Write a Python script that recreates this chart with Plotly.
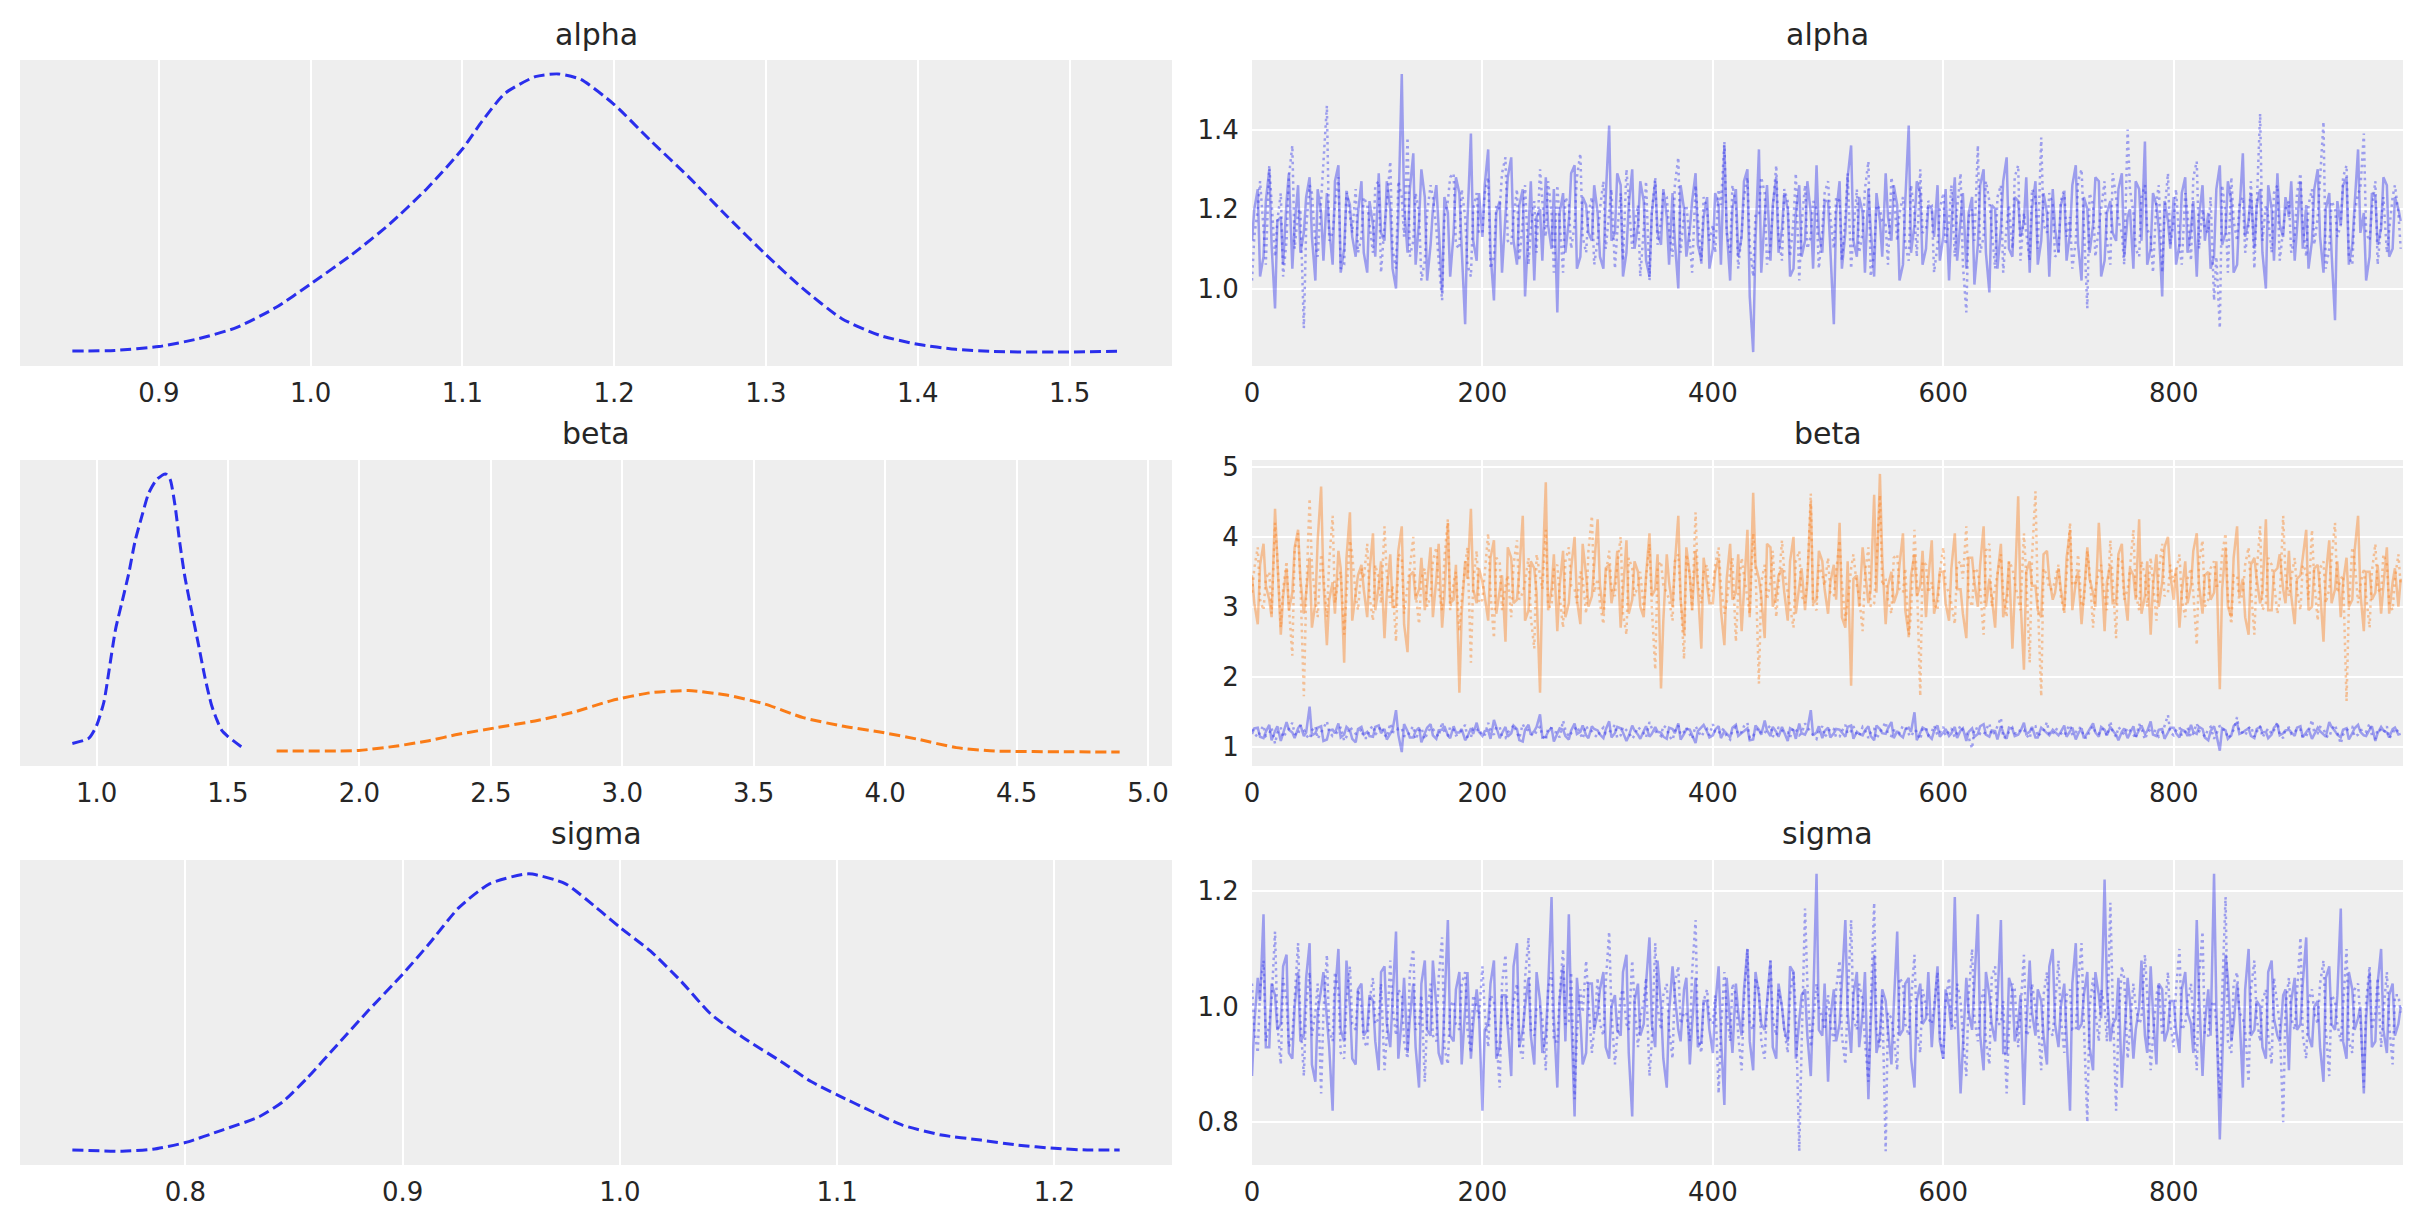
import plotly.graph_objects as go

# ---------------- data ----------------
# Each chain is stored as two lists: draws 0,5,10,... and draws 2,7,12,...
DRAW_A = list(range(0, 1000, 5))
DRAW_B = list(range(2, 1000, 5))

ALPHA_KDE_X = [0.843, 0.871, 0.900, 0.926, 0.951, 0.977, 1.000, 1.027, 1.052, 1.077, 1.100, 1.113, 1.128, 1.148, 1.163,
               1.178, 1.200, 1.224, 1.249, 1.274, 1.300, 1.324, 1.350, 1.375, 1.400, 1.425, 1.450, 1.491, 1.533]
ALPHA_KDE_Y = [0.004, 0.006, 0.02, 0.048, 0.088, 0.16, 0.245, 0.35, 0.46, 0.59, 0.73, 0.83, 0.93, 0.99, 1.00,
               0.98, 0.89, 0.76, 0.63, 0.49, 0.35, 0.23, 0.12, 0.06, 0.028, 0.01, 0.002, 0.0, 0.003]

BETA0_KDE_X = [0.908, 0.971, 1.000, 1.028, 1.047, 1.072, 1.097, 1.122, 1.147, 1.173, 1.198, 1.229, 1.263, 1.280,
               1.298, 1.317, 1.336, 1.361, 1.387, 1.412, 1.437, 1.456, 1.475, 1.500, 1.552]
BETA0_KDE_Y = [0.031, 0.05, 0.095, 0.18, 0.29, 0.44, 0.54, 0.64, 0.76, 0.85, 0.93, 0.98, 1.00, 0.98,
               0.89, 0.75, 0.63, 0.51, 0.39, 0.27, 0.17, 0.12, 0.08, 0.056, 0.018]
BETA1_KDE_X = [1.685, 1.997, 2.143, 2.259, 2.376, 2.522, 2.668, 2.813, 2.959, 3.105, 3.251, 3.397, 3.542, 3.688,
               3.834, 3.980, 4.125, 4.271, 4.417, 4.708, 4.892]
BETA1_KDE_Y = [0.004, 0.006, 0.022, 0.04, 0.064, 0.088, 0.112, 0.143, 0.185, 0.213, 0.221, 0.205, 0.173, 0.124,
               0.094, 0.072, 0.046, 0.016, 0.004, 0.001, 0.0]

SIGMA_KDE_X = [0.748, 0.771, 0.785, 0.800, 0.817, 0.834, 0.845, 0.856, 0.870, 0.884, 0.900, 0.912, 0.926, 0.940,
               0.958, 0.975, 0.989, 1.000, 1.014, 1.028, 1.042, 1.057, 1.074, 1.088, 1.100, 1.116, 1.130, 1.148,
               1.166, 1.183, 1.200, 1.215, 1.230]
SIGMA_KDE_Y = [0.004, 0.0, 0.007, 0.031, 0.076, 0.124, 0.179, 0.263, 0.384, 0.505, 0.638, 0.746, 0.879, 0.964,
               1.0, 0.964, 0.879, 0.807, 0.722, 0.614, 0.493, 0.408, 0.324, 0.251, 0.203, 0.143, 0.094, 0.058,
               0.040, 0.022, 0.010, 0.004, 0.004]

ALPHA_CHAIN0_A = [
    1.12, 1.25, 1.08, 1.30, 0.95, 1.18, 1.22, 1.05, 1.26, 1.14, 1.28, 1.02, 1.19, 1.24, 1.06, 1.31, 1.10, 1.21, 1.08, 1.27,
    1.04, 1.16, 1.29, 1.12, 1.20, 1.00, 1.54, 1.09, 1.34, 1.17, 1.23, 1.11, 1.26, 0.99, 1.19, 1.14, 1.24, 0.91, 1.39, 1.07,
    1.13, 1.35, 0.97, 1.22, 1.18, 1.33, 1.06, 1.25, 1.15, 1.02, 1.20, 1.28, 1.10, 0.94, 1.24, 1.17, 1.31, 1.08, 1.21, 1.12,
    1.19, 1.05, 1.41, 1.14, 1.26, 1.09, 1.30, 1.16, 1.22, 1.03, 1.27, 1.11, 1.18, 1.24, 1.00, 1.20, 1.15, 1.29, 1.07, 1.23,
    1.10, 1.21, 1.36, 1.02, 1.25, 1.13, 1.30, 0.84, 1.35, 1.18, 1.07, 1.28, 1.15, 1.20, 1.05, 1.26, 1.12, 1.19, 1.31, 1.09,
    1.22, 0.91, 1.27, 1.14, 1.36, 1.08, 1.19, 1.25, 1.03, 1.17, 1.29, 1.12, 1.21, 1.06, 1.41, 1.16, 1.24, 1.10, 1.20, 1.26,
    1.13, 1.02, 1.28, 1.18, 1.05, 1.23, 1.11, 1.30, 0.99, 1.20, 1.15, 1.33, 1.08, 1.22, 1.17, 1.04, 1.27, 1.12, 1.19, 1.25,
    1.09, 1.24, 1.14, 1.31, 1.02, 1.20, 1.16, 1.27, 1.07, 1.22, 1.12, 1.29, 1.18, 1.05, 1.25, 1.37, 1.10, 1.21, 0.98, 1.17,
    1.23, 1.11, 1.28, 1.15, 1.03, 1.26, 1.19, 1.08, 1.31, 1.14, 1.22, 1.06, 1.34, 1.17, 1.10, 1.25, 1.00, 1.20, 1.29, 1.13,
    1.18, 1.07, 1.27, 1.21, 1.12, 1.30, 1.04, 1.24, 0.92, 1.16, 1.28, 1.11, 1.35, 1.19, 1.08, 1.23, 1.15, 1.26, 1.10, 1.20,
]
ALPHA_CHAIN0_B = [
    1.20, 1.03, 1.22, 1.11, 1.17, 1.06, 1.29, 1.16, 1.09, 1.23, 1.13, 1.25, 1.07, 1.15, 1.27, 1.04, 1.24, 1.13, 1.19, 1.09,
    1.22, 1.08, 1.14, 1.27, 1.05, 1.18, 1.21, 1.25, 1.06, 1.30, 1.02, 1.20, 1.14, 1.23, 1.03, 1.28, 1.10, 1.17, 1.12, 1.24,
    1.26, 1.09, 1.19, 1.04, 1.28, 1.12, 1.21, 0.98, 1.27, 1.18, 1.07, 1.16, 1.25, 1.19, 1.09, 1.29, 1.05, 1.23, 1.14, 1.26,
    1.08, 1.23, 1.12, 1.29, 1.03, 1.21, 1.10, 1.27, 1.07, 1.19, 1.14, 1.25, 1.06, 1.12, 1.26, 1.08, 1.22, 1.11, 1.18, 1.05,
    1.24, 1.06, 1.15, 1.20, 1.08, 1.27, 0.98, 1.12, 1.04, 1.26, 1.21, 1.09, 1.24, 1.03, 1.19, 1.08, 1.27, 1.05, 1.14, 1.22,
    1.10, 1.19, 1.05, 1.28, 1.12, 1.23, 1.04, 1.15, 1.24, 1.08, 1.18, 1.26, 1.02, 1.22, 1.09, 1.27, 1.06, 1.21, 1.13, 1.07,
    1.25, 1.16, 1.07, 1.24, 1.19, 1.01, 1.26, 1.09, 1.21, 1.05, 1.27, 1.10, 1.23, 1.13, 1.28, 1.20, 1.06, 1.24, 1.03, 1.15,
    1.21, 1.07, 1.26, 1.11, 1.23, 1.09, 1.28, 1.03, 1.19, 1.14, 1.25, 1.08, 1.20, 1.27, 1.12, 1.06, 1.24, 1.15, 1.22, 1.10,
    1.06, 1.24, 1.09, 1.22, 1.18, 1.12, 1.05, 1.25, 1.11, 1.27, 1.04, 1.19, 1.13, 1.24, 1.21, 1.09, 1.26, 1.07, 1.16, 1.23,
    1.27, 1.15, 1.10, 1.05, 1.25, 1.13, 1.20, 1.09, 1.22, 1.26, 1.06, 1.21, 1.14, 1.02, 1.24, 1.11, 1.28, 1.08, 1.23, 1.17,
]
ALPHA_CHAIN1_A = [
    1.02, 1.20, 1.15, 1.31, 1.08, 1.24, 1.12, 1.36, 1.19, 0.90, 1.26, 1.11, 1.22, 1.46, 1.14, 1.28, 1.06, 1.18, 1.25, 1.13,
    1.21, 1.09, 1.27, 1.16, 1.32, 1.05, 1.23, 1.38, 1.12, 1.19, 1.07, 1.26, 1.15, 0.97, 1.22, 1.29, 1.10, 1.18, 1.03, 1.24,
    1.14, 1.28, 1.08, 1.20, 1.33, 1.11, 1.25, 1.17, 1.06, 1.22, 1.30, 1.13, 1.19, 1.26, 1.04, 1.21, 1.16, 1.34, 1.09, 1.23,
    1.12, 1.27, 1.18, 1.05, 1.24, 1.30, 1.10, 1.21, 1.15, 1.02, 1.28, 1.17, 1.23, 1.08, 1.33, 1.19, 1.12, 1.26, 1.06, 1.20,
    1.16, 1.25, 1.37, 1.09, 1.21, 1.14, 1.28, 1.03, 1.19, 1.24, 1.11, 1.31, 1.07, 1.22, 1.17, 1.02, 1.26, 1.13, 1.20, 1.15,
    1.27, 1.10, 1.22, 1.18, 1.05, 1.25, 1.14, 1.32, 1.09, 1.20, 1.16, 1.28, 1.12, 1.23, 1.07, 1.19, 1.30, 1.15, 1.21, 1.11,
    1.24, 1.17, 1.08, 1.29, 0.94, 1.20, 1.36, 1.13, 1.22, 1.05, 1.26, 1.16, 1.10, 1.31, 1.19, 1.07, 1.23, 1.38, 1.14, 1.21,
    1.09, 1.25, 1.18, 1.12, 1.30, 0.95, 1.21, 1.16, 1.27, 1.06, 1.23, 1.14, 1.40, 1.19, 1.08, 1.26, 1.13, 1.22, 1.04, 1.29,
    1.17, 1.11, 1.24, 1.07, 1.32, 1.20, 1.14, 0.97, 0.90, 1.19, 1.28, 1.12, 1.23, 1.16, 1.05, 1.44, 1.21, 1.09, 1.26, 1.15,
    1.22, 1.13, 1.29, 1.08, 1.25, 1.18, 1.42, 1.10, 1.20, 1.16, 1.31, 1.06, 1.24, 1.39, 1.12, 1.27, 1.17, 1.09, 1.23, 1.19,
]
ALPHA_CHAIN1_B = [
    1.13, 1.27, 1.06, 1.22, 1.17, 1.03, 1.28, 1.10, 1.20, 1.15, 1.24, 1.08, 1.30, 1.12, 1.21, 1.05, 1.25, 1.14, 1.09, 1.23,
    1.16, 1.26, 1.04, 1.21, 1.10, 1.27, 1.13, 1.08, 1.24, 1.02, 1.19, 1.23, 1.07, 1.18, 1.28, 1.11, 1.25, 1.06, 1.20, 1.14,
    1.24, 1.05, 1.21, 1.29, 1.12, 1.18, 1.07, 1.26, 1.15, 1.09, 1.22, 1.27, 1.04, 1.17, 1.23, 1.10, 1.28, 1.13, 1.19, 1.06,
    1.20, 1.10, 1.25, 1.14, 1.07, 1.22, 1.16, 1.03, 1.27, 1.19, 1.11, 1.24, 1.15, 1.26, 1.09, 1.21, 1.04, 1.18, 1.23, 1.12,
    1.09, 1.21, 1.14, 1.26, 1.05, 1.23, 1.11, 1.19, 1.28, 1.06, 1.20, 1.13, 1.25, 1.08, 1.29, 1.16, 1.10, 1.22, 1.05, 1.24,
    1.18, 1.23, 1.07, 1.29, 1.14, 1.09, 1.25, 1.03, 1.21, 1.17, 1.06, 1.24, 1.19, 1.11, 1.26, 1.08, 1.14, 1.22, 1.04, 1.20,
    1.11, 1.26, 1.20, 1.06, 1.18, 1.12, 1.09, 1.27, 1.15, 1.23, 1.04, 1.21, 1.28, 1.07, 1.14, 1.25, 1.10, 1.16, 1.24, 1.08,
    1.22, 1.13, 1.05, 1.27, 1.16, 1.24, 1.08, 1.20, 1.12, 1.29, 1.17, 1.06, 1.25, 1.10, 1.23, 1.15, 1.04, 1.26, 1.19, 1.11,
    1.25, 1.06, 1.19, 1.28, 1.10, 1.15, 1.23, 1.08, 1.26, 1.04, 1.17, 1.21, 1.09, 1.27, 1.22, 1.12, 1.18, 1.24, 1.07, 1.20,
    1.09, 1.24, 1.16, 1.21, 1.11, 1.27, 1.05, 1.22, 1.13, 1.28, 1.08, 1.19, 1.25, 1.14, 1.20, 1.06, 1.23, 1.15, 1.26, 1.10,
]

BETA0_CHAIN0_A = [
    1.18, 1.27, 1.12, 1.31, 1.22, 1.08, 1.35, 1.20, 1.26, 1.15, 1.57, 1.19, 1.29, 1.10, 1.24, 1.33, 1.17, 1.23, 1.06, 1.28,
    1.21, 1.14, 1.30, 1.25, 1.18, 1.52, 0.92, 1.22, 1.13, 1.27, 1.19, 1.32, 1.11, 1.24, 1.16, 1.29, 1.20, 1.09, 1.26, 1.34,
    1.15, 1.23, 1.38, 1.12, 1.28, 1.19, 1.25, 1.07, 1.31, 1.22, 1.46, 1.14, 1.27, 1.18, 1.24, 1.10, 1.33, 1.21, 1.16, 1.29,
    1.23, 1.12, 1.36, 1.19, 1.26, 1.08, 1.30, 1.17, 1.22, 1.14, 1.28, 1.20, 1.11, 1.25, 1.33, 1.18, 1.24, 1.05, 1.27, 1.21,
    1.16, 1.29, 1.22, 1.13, 1.31, 1.19, 1.26, 1.10, 1.24, 1.37, 1.15, 1.21, 1.28, 1.08, 1.23, 1.33, 1.17, 1.52, 1.20, 1.12,
    1.27, 1.19, 1.24, 1.14, 1.30, 1.21, 1.16, 1.29, 1.09, 1.25, 1.18, 1.35, 1.22, 1.13, 1.27, 1.49, 1.19, 1.24, 1.11, 1.30,
    1.20, 1.15, 1.28, 1.23, 1.08, 1.26, 1.18, 1.32, 1.14, 1.22, 1.29, 1.11, 1.25, 1.17, 1.34, 1.21, 1.13, 1.27, 1.19, 1.24,
    1.16, 1.30, 1.22, 1.10, 1.26, 1.19, 1.33, 1.14, 1.24, 1.28, 1.17, 1.21, 1.12, 1.29, 1.23, 1.18, 1.36, 1.15, 1.25, 1.20,
    1.27, 1.13, 1.22, 1.31, 1.18, 1.25, 1.09, 1.29, 0.94, 1.23, 1.16, 1.34, 1.20, 1.26, 1.12, 1.28, 1.21, 1.17, 1.32, 1.19,
    1.24, 1.15, 1.29, 1.21, 1.11, 1.27, 1.18, 1.35, 1.22, 1.13, 1.26, 1.19, 1.31, 1.16, 1.24, 1.08, 1.28, 1.20, 1.25, 1.17,
]
BETA0_CHAIN0_B = [
    1.26, 1.14, 1.21, 1.09, 1.29, 1.18, 1.24, 1.12, 1.31, 1.20, 1.16, 1.27, 1.08, 1.23, 1.19, 1.13, 1.28, 1.11, 1.25, 1.17,
    1.15, 1.28, 1.19, 1.10, 1.24, 1.17, 1.32, 1.13, 1.22, 1.06, 1.27, 1.16, 1.23, 1.29, 1.12, 1.20, 1.25, 1.14, 1.18, 1.21,
    1.22, 1.11, 1.27, 1.19, 1.14, 1.30, 1.09, 1.24, 1.17, 1.28, 1.13, 1.21, 1.07, 1.26, 1.15, 1.23, 1.18, 1.30, 1.12, 1.25,
    1.17, 1.24, 1.13, 1.28, 1.20, 1.15, 1.23, 1.11, 1.29, 1.18, 1.21, 1.14, 1.27, 1.19, 1.10, 1.25, 1.16, 1.22, 1.31, 1.13,
    1.24, 1.12, 1.18, 1.27, 1.15, 1.21, 1.09, 1.30, 1.17, 1.23, 1.28, 1.14, 1.20, 1.26, 1.11, 1.19, 1.24, 1.16, 1.29, 1.22,
    1.13, 1.25, 1.20, 1.28, 1.11, 1.18, 1.23, 1.15, 1.30, 1.19, 1.26, 1.12, 1.17, 1.24, 1.21, 1.09, 1.27, 1.16, 1.22, 1.14,
    1.25, 1.19, 1.12, 1.26, 1.21, 1.14, 1.29, 1.17, 1.23, 1.10, 1.20, 1.27, 1.15, 1.22, 1.18, 1.28, 1.13, 1.24, 1.16, 1.21,
    1.21, 1.14, 1.27, 1.18, 1.12, 1.25, 1.20, 1.28, 1.16, 1.23, 1.09, 1.26, 1.19, 1.14, 1.30, 1.22, 1.17, 1.24, 1.11, 1.27,
    1.19, 1.24, 1.15, 1.21, 1.28, 1.13, 1.22, 1.17, 1.26, 1.11, 1.29, 1.18, 1.23, 1.15, 1.25, 1.20, 1.12, 1.27, 1.16, 1.23,
    1.20, 1.27, 1.13, 1.25, 1.18, 1.22, 1.14, 1.28, 1.17, 1.24, 1.10, 1.26, 1.21, 1.15, 1.29, 1.19, 1.23, 1.13, 1.27, 1.18,
]
BETA0_CHAIN1_A = [
    1.25, 1.13, 1.30, 1.19, 1.04, 1.27, 1.21, 1.34, 1.16, 1.24, 1.11, 1.29, 1.20, 1.36, 1.15, 1.22, 1.08, 1.28, 1.18, 1.25,
    1.12, 1.30, 1.23, 1.17, 1.33, 1.20, 1.26, 1.14, 1.29, 1.22, 1.10, 1.27, 1.19, 1.35, 1.16, 1.24, 1.18, 1.31, 1.13, 1.26,
    1.21, 1.34, 1.17, 1.28, 1.12, 1.25, 1.19, 1.32, 1.23, 1.15, 1.29, 1.09, 1.26, 1.20, 1.37, 1.14, 1.24, 1.18, 1.30, 1.22,
    1.13, 1.27, 1.20, 1.31, 1.16, 1.24, 1.11, 1.28, 1.19, 1.35, 1.22, 1.15, 1.26, 1.09, 1.30, 1.21, 1.17, 1.29, 1.14, 1.25,
    1.32, 1.18, 1.23, 1.10, 1.28, 1.21, 1.34, 1.15, 1.26, 1.19, 1.30, 1.13, 1.24, 1.20, 1.27, 1.16, 1.33, 1.22, 1.11, 1.29,
    1.19, 1.25, 1.14, 1.31, 1.22, 1.17, 1.28, 1.12, 1.26, 1.20, 1.35, 1.15, 1.23, 1.30, 1.18, 1.24, 1.10, 1.27, 1.21, 1.16,
    1.28, 1.22, 1.13, 1.30, 1.19, 0.97, 1.25, 1.16, 1.33, 1.21, 1.41, 1.14, 1.27, 1.18, 1.24, 1.11, 1.29, 1.20, 1.35, 1.17,
    1.23, 1.15, 1.31, 1.20, 1.26, 1.12, 1.29, 1.18, 1.24, 1.36, 1.14, 1.22, 1.27, 1.17, 1.32, 1.10, 1.25, 1.21, 1.19, 1.45,
    1.16, 1.28, 1.21, 1.13, 1.33, 1.19, 1.25, 1.11, 1.30, 1.23, 1.17, 1.42, 1.20, 1.26, 1.14, 1.29, 1.22, 1.18, 1.35, 1.12,
    1.27, 1.20, 1.24, 1.15, 1.38, 1.19, 1.26, 1.13, 1.31, 1.04, 1.22, 1.28, 1.17, 1.25, 1.33, 1.11, 1.23, 1.29, 1.18, 1.21,
]
BETA0_CHAIN1_B = [
    1.19, 1.22, 1.15, 1.27, 1.20, 1.13, 1.25, 1.18, 1.30, 1.16, 1.23, 1.11, 1.26, 1.21, 1.17, 1.28, 1.14, 1.24, 1.19, 1.12,
    1.24, 1.17, 1.29, 1.13, 1.21, 1.26, 1.15, 1.22, 1.10, 1.27, 1.19, 1.25, 1.14, 1.20, 1.28, 1.16, 1.23, 1.12, 1.26, 1.18,
    1.16, 1.23, 1.28, 1.14, 1.20, 1.31, 1.12, 1.25, 1.18, 1.22, 1.15, 1.27, 1.21, 1.13, 1.24, 1.19, 1.29, 1.11, 1.23, 1.17,
    1.22, 1.18, 1.25, 1.12, 1.28, 1.20, 1.16, 1.24, 1.13, 1.26, 1.19, 1.30, 1.15, 1.22, 1.17, 1.27, 1.11, 1.23, 1.20, 1.16,
    1.21, 1.26, 1.14, 1.23, 1.17, 1.29, 1.12, 1.22, 1.18, 1.25, 1.15, 1.28, 1.20, 1.13, 1.24, 1.19, 1.27, 1.16, 1.22, 1.14,
    1.27, 1.13, 1.22, 1.18, 1.29, 1.15, 1.24, 1.20, 1.11, 1.26, 1.17, 1.23, 1.19, 1.28, 1.14, 1.21, 1.25, 1.16, 1.30, 1.20,
    1.15, 1.26, 1.20, 1.23, 1.13, 1.27, 1.18, 1.24, 1.16, 1.29, 1.12, 1.21, 1.19, 1.25, 1.17, 1.28, 1.14, 1.22, 1.18, 1.26,
    1.19, 1.24, 1.16, 1.27, 1.13, 1.22, 1.20, 1.25, 1.15, 1.21, 1.28, 1.17, 1.23, 1.11, 1.26, 1.19, 1.24, 1.14, 1.29, 1.20,
    1.23, 1.15, 1.27, 1.19, 1.22, 1.14, 1.28, 1.18, 1.25, 1.12, 1.24, 1.20, 1.16, 1.29, 1.21, 1.13, 1.26, 1.23, 1.17, 1.25,
    1.18, 1.26, 1.13, 1.22, 1.20, 1.28, 1.15, 1.24, 1.19, 1.17, 1.27, 1.14, 1.23, 1.21, 1.16, 1.25, 1.19, 1.12, 1.26, 1.22,
]

BETA1_CHAIN0_A = [
    3.45, 2.75, 3.90, 3.10, 4.40, 2.60, 3.55, 3.20, 4.10, 2.90, 3.70, 3.05, 4.72, 2.45, 3.35, 3.80, 2.20, 4.35, 3.15, 3.60,
    2.85, 4.05, 3.30, 2.55, 3.75, 3.00, 4.15, 2.35, 3.50, 3.25, 2.95, 3.85, 3.40, 2.70, 4.20, 3.10, 1.77, 3.65, 4.40, 3.05,
    3.35, 2.80, 3.95, 3.20, 2.50, 3.70, 3.10, 4.30, 2.95, 3.55, 1.77, 4.78, 3.25, 2.65, 3.80, 3.05, 4.00, 2.75, 3.45, 3.15,
    4.25, 2.90, 3.60, 3.35, 2.70, 3.95, 3.10, 3.50, 2.85, 4.05, 3.25, 1.83, 3.75, 3.00, 4.30, 2.60, 3.45, 3.80, 2.40, 3.30,
    3.05, 3.70, 2.45, 3.90, 3.20, 2.65, 4.10, 4.63, 3.40, 2.55, 3.85, 3.15, 3.55, 2.80, 4.00, 3.25, 2.95, 4.50, 3.10, 3.65,
    2.90, 3.60, 4.20, 2.70, 1.87, 3.45, 3.85, 3.05, 4.60, 4.90, 2.75, 3.50, 3.20, 4.05, 2.60, 3.75, 3.30, 2.85, 3.95, 3.15,
    3.50, 2.80, 4.05, 3.25, 2.55, 3.70, 3.00, 4.15, 3.40, 2.70, 3.90, 3.15, 2.40, 4.58, 2.10, 3.65, 3.30, 2.85, 3.80, 3.10,
    3.55, 2.95, 4.10, 3.35, 2.75, 3.85, 3.20, 4.20, 2.65, 3.60, 3.05, 3.90, 2.80, 3.45, 4.25, 3.15, 2.60, 3.75, 3.35, 4.00,
    3.10, 2.70, 3.65, 3.30, 4.05, 2.90, 3.50, 3.20, 1.82, 3.85, 2.85, 4.15, 3.40, 2.60, 3.70, 3.05, 4.25, 2.95, 3.55, 3.25,
    3.80, 2.75, 3.45, 4.10, 3.00, 3.60, 2.50, 3.95, 3.25, 2.85, 3.70, 3.10, 4.30, 2.65, 3.50, 3.20, 2.90, 3.85, 3.35, 3.00,
]
BETA1_CHAIN0_B = [
    3.05, 3.60, 3.30, 2.85, 3.75, 3.15, 2.95, 3.85, 3.40, 3.20, 2.70, 3.95, 3.35, 3.10, 2.90, 3.55, 3.70, 2.80, 3.45, 3.25,
    3.50, 2.95, 3.65, 3.20, 3.00, 3.80, 2.75, 3.45, 3.10, 3.70, 3.35, 2.85, 3.90, 3.15, 3.05, 3.60, 2.90, 3.40, 3.25, 3.55,
    3.15, 3.70, 2.90, 3.45, 3.85, 3.05, 3.50, 2.80, 3.65, 3.20, 3.40, 2.95, 3.75, 3.30, 2.85, 3.55, 3.10, 3.90, 3.00, 3.60,
    3.30, 3.55, 3.05, 3.80, 3.20, 2.90, 3.65, 3.00, 3.45, 3.15, 3.75, 2.80, 3.35, 3.60, 3.10, 3.85, 2.95, 3.25, 3.70, 3.05,
    3.50, 2.95, 3.40, 3.10, 3.75, 3.30, 2.85, 3.60, 3.15, 3.90, 3.00, 3.45, 3.20, 3.65, 2.90, 3.55, 3.35, 3.05, 3.80, 3.25,
    3.35, 3.10, 2.85, 3.65, 3.40, 3.00, 3.55, 3.25, 3.20, 3.70, 3.30, 3.05, 3.60, 2.95, 3.45, 3.15, 3.80, 3.40, 2.90, 3.50,
    3.05, 3.55, 3.25, 2.90, 3.70, 3.35, 3.60, 3.00, 3.15, 3.45, 2.85, 3.65, 3.20, 3.10, 3.50, 3.30, 2.95, 3.75, 3.40, 3.20,
    3.25, 3.70, 2.95, 3.50, 3.15, 3.40, 3.00, 3.60, 3.35, 3.05, 3.75, 3.20, 3.55, 3.10, 2.90, 3.65, 3.30, 3.00, 3.85, 3.45,
    3.55, 3.20, 3.05, 3.80, 3.30, 3.45, 3.10, 3.65, 3.25, 3.00, 3.70, 3.15, 2.85, 3.60, 3.40, 3.20, 2.95, 3.50, 3.75, 3.05,
    3.15, 3.40, 3.70, 2.95, 3.55, 3.25, 3.45, 3.05, 3.65, 3.35, 3.00, 3.80, 3.20, 3.50, 3.10, 3.60, 3.30, 2.90, 3.55, 3.40,
]
BETA1_CHAIN1_A = [
    3.20, 3.85, 2.95, 3.50, 4.20, 2.70, 3.65, 2.30, 4.05, 1.72, 4.55, 3.10, 3.75, 2.85, 4.30, 3.40, 2.60, 3.95, 3.15, 3.55,
    3.90, 2.80, 3.40, 4.15, 3.05, 2.50, 3.70, 3.25, 4.00, 2.75, 3.55, 3.15, 3.85, 2.95, 4.25, 3.35, 2.65, 3.60, 2.20, 3.80,
    3.10, 4.05, 2.55, 3.65, 3.30, 2.85, 3.95, 3.20, 3.70, 2.40, 3.45, 4.10, 3.00, 3.60, 2.70, 3.85, 3.25, 3.50, 2.90, 4.30,
    3.40, 2.75, 3.80, 3.15, 4.00, 2.60, 3.55, 3.30, 2.95, 3.90, 2.10, 3.65, 3.20, 2.80, 3.75, 2.25, 3.45, 4.35, 3.05, 3.60,
    3.25, 3.85, 2.90, 3.50, 2.50, 3.70, 3.10, 4.05, 1.90, 3.60, 3.35, 2.85, 3.95, 3.20, 2.70, 3.80, 3.05, 4.62, 2.95, 3.45,
    3.70, 3.15, 3.95, 2.80, 3.55, 3.30, 2.65, 3.85, 3.05, 4.60, 3.40, 2.90, 3.75, 3.20, 2.55, 4.10, 1.72, 3.60, 3.35, 2.95,
    3.85, 3.20, 2.75, 3.65, 4.15, 3.00, 3.50, 2.60, 3.90, 3.30, 3.75, 2.85, 3.55, 3.10, 4.05, 2.20, 4.65, 1.72, 3.45, 3.25,
    3.60, 2.90, 4.20, 3.35, 3.00, 3.80, 2.70, 3.50, 3.15, 3.95, 2.55, 3.65, 3.25, 4.10, 2.95, 3.45, 3.70, 2.80, 3.90, 3.20,
    3.35, 3.75, 2.85, 3.55, 2.45, 3.95, 3.10, 3.65, 3.30, 4.05, 2.75, 3.45, 3.20, 3.85, 2.60, 4.15, 3.05, 3.60, 2.90, 4.30,
    3.15, 3.70, 2.95, 3.50, 4.10, 2.80, 3.65, 3.25, 4.20, 3.40, 1.65, 3.85, 3.05, 3.55, 2.70, 3.90, 3.20, 3.60, 2.95, 3.75,
]
BETA1_CHAIN1_B = [
    3.55, 3.10, 3.40, 2.90, 3.70, 3.25, 3.00, 3.80, 3.35, 3.15, 3.60, 2.85, 3.45, 3.65, 3.05, 3.50, 3.20, 3.75, 2.95, 3.40,
    3.15, 3.60, 3.05, 3.45, 3.30, 3.75, 2.90, 3.55, 3.20, 3.40, 3.00, 3.65, 3.25, 3.70, 2.95, 3.50, 3.10, 3.85, 3.35, 3.05,
    3.50, 3.20, 3.70, 2.95, 3.45, 3.60, 3.10, 3.35, 2.85, 3.75, 3.25, 3.00, 3.55, 3.15, 3.65, 3.30, 3.05, 3.40, 3.80, 3.20,
    3.05, 3.45, 3.25, 3.60, 2.90, 3.70, 3.15, 3.50, 3.40, 3.00, 3.55, 3.30, 3.10, 3.65, 3.20, 3.75, 2.95, 3.35, 3.50, 3.15,
    3.60, 3.30, 3.05, 3.70, 3.20, 3.45, 2.90, 3.55, 3.35, 3.10, 3.80, 3.25, 3.50, 2.95, 3.65, 3.15, 3.40, 3.00, 3.60, 3.30,
    3.20, 3.50, 3.35, 3.05, 3.75, 3.15, 3.45, 3.00, 3.60, 3.30, 3.10, 3.70, 3.25, 3.55, 2.90, 3.40, 3.65, 3.20, 3.05, 3.50,
    3.30, 3.05, 3.60, 3.40, 3.15, 3.55, 3.25, 3.80, 3.00, 3.50, 3.20, 3.65, 3.35, 2.95, 3.45, 3.70, 3.10, 3.55, 3.25, 3.40,
    3.15, 3.45, 3.30, 3.75, 3.05, 3.50, 3.25, 3.60, 2.95, 3.40, 3.70, 3.10, 3.55, 3.20, 3.65, 3.00, 3.35, 3.50, 3.15, 3.60,
    3.50, 3.10, 3.40, 3.20, 3.65, 3.00, 3.55, 3.30, 3.75, 3.15, 3.45, 3.05, 3.60, 3.25, 3.50, 2.95, 3.70, 3.35, 3.10, 3.45,
    3.40, 3.25, 3.60, 3.10, 3.35, 3.55, 3.05, 3.70, 3.20, 3.45, 3.00, 3.65, 3.30, 3.15, 3.50, 3.25, 3.75, 3.05, 3.40, 3.30,
]

SIGMA_CHAIN0_A = [
    0.88, 1.05, 1.16, 0.93, 1.02, 0.97, 1.09, 0.91, 1.06, 0.95, 1.11, 0.87, 1.03, 0.98, 0.82, 1.10, 0.94, 1.00, 0.90, 1.04,
    0.96, 1.01, 0.89, 1.07, 0.93, 1.13, 0.98, 0.92, 1.04, 0.86, 1.08, 0.95, 1.00, 0.90, 1.15, 0.94, 1.06, 0.99, 0.91, 1.03,
    0.82, 0.97, 1.08, 0.93, 1.02, 0.88, 1.11, 0.96, 1.05, 0.90, 1.01, 0.95, 1.19, 0.86, 1.07, 1.16, 0.81, 0.98, 0.92, 1.04,
    0.99, 1.06, 0.91, 1.02, 0.95, 1.09, 0.81, 1.04, 0.97, 1.12, 0.93, 1.00, 0.86, 1.07, 0.96, 1.03, 0.90, 1.05, 0.94, 1.01,
    0.92, 1.07, 0.83, 0.98, 1.04, 0.95, 1.10, 0.89, 1.02, 0.96, 1.08, 0.91, 1.00, 0.94, 1.06, 0.97, 1.03, 0.88, 1.23, 0.95,
    0.87, 1.03, 0.97, 1.15, 0.92, 1.06, 0.99, 0.84, 1.09, 0.95, 1.01, 0.90, 1.13, 0.96, 1.05, 0.86, 1.04, 0.98, 0.93, 1.07,
    0.91, 1.00, 1.19, 0.85, 1.05, 0.96, 1.16, 0.89, 1.02, 0.94, 1.15, 0.92, 1.03, 0.97, 0.83, 1.08, 0.95, 1.01, 0.90, 1.10,
    0.93, 1.04, 0.82, 1.11, 0.97, 1.06, 0.89, 1.02, 1.22, 0.94, 0.98, 0.86, 1.05, 0.91, 1.00, 0.95, 1.07, 0.90, 1.03, 0.96,
    1.01, 0.92, 1.06, 0.97, 1.15, 0.88, 1.03, 1.23, 0.77, 1.09, 0.94, 1.04, 0.86, 1.10, 0.96, 1.00, 0.91, 1.08, 0.95, 1.02,
    0.89, 1.05, 0.97, 1.12, 0.93, 1.01, 0.87, 1.07, 0.96, 1.17, 0.91, 1.03, 0.98, 0.85, 1.06, 0.94, 1.10, 0.92, 1.04, 0.97,
]
SIGMA_CHAIN0_B = [
    0.97, 1.01, 0.93, 1.04, 0.96, 1.07, 0.92, 1.00, 0.94, 1.05, 0.90, 0.99, 1.06, 0.93, 1.02, 0.96, 1.08, 0.91, 1.03, 0.95,
    1.02, 0.94, 1.06, 0.97, 1.01, 0.91, 1.05, 0.98, 0.93, 1.04, 0.96, 1.08, 0.92, 1.00, 0.95, 1.03, 0.90, 1.06, 0.97, 0.99,
    0.96, 1.04, 0.91, 1.02, 0.97, 1.07, 0.93, 1.00, 0.95, 1.06, 0.92, 1.03, 0.98, 1.01, 0.94, 0.99, 1.05, 0.90, 1.04, 0.96,
    1.03, 0.93, 1.00, 0.96, 1.06, 0.92, 1.01, 0.95, 1.04, 0.97, 1.08, 0.91, 0.99, 1.02, 0.94, 1.05, 0.97, 0.93, 1.01, 0.96,
    1.00, 0.95, 1.05, 0.92, 0.99, 1.03, 0.94, 1.06, 0.97, 1.01, 0.93, 1.04, 0.96, 1.07, 0.91, 1.02, 0.95, 1.00, 0.96, 1.04,
    0.98, 0.94, 1.05, 0.99, 1.02, 0.93, 1.06, 0.97, 0.92, 1.03, 0.96, 1.00, 0.95, 1.04, 0.91, 1.01, 0.97, 1.06, 0.99, 0.94,
    1.03, 0.96, 1.00, 0.93, 0.99, 1.04, 0.95, 1.06, 0.97, 1.01, 0.92, 1.05, 0.94, 1.02, 0.96, 0.99, 1.03, 0.95, 1.07, 0.97,
    1.00, 0.95, 1.04, 0.96, 1.02, 0.93, 1.06, 0.98, 1.03, 0.97, 1.05, 0.94, 1.01, 0.96, 1.08, 0.92, 0.99, 1.04, 0.94, 1.01,
    0.96, 1.03, 0.99, 0.92, 1.02, 0.97, 0.95, 1.00, 0.90, 1.05, 0.97, 0.99, 1.03, 0.95, 1.01, 0.93, 1.06, 0.98, 0.94, 1.03,
    1.01, 0.96, 1.04, 0.95, 1.00, 0.93, 1.05, 0.97, 1.02, 0.94, 1.06, 0.96, 1.00, 0.98, 0.93, 1.04, 0.96, 1.02, 0.95, 1.00,
]
SIGMA_CHAIN1_A = [
    1.04, 0.92, 1.08, 0.97, 1.13, 0.90, 1.01, 0.95, 1.11, 0.88, 1.06, 0.99, 0.85, 1.09, 0.94, 1.03, 0.91, 1.07, 0.96, 1.00,
    0.93, 1.05, 0.98, 0.89, 1.08, 0.95, 1.02, 0.91, 1.10, 0.97, 0.87, 1.04, 0.94, 1.12, 0.90, 1.01, 0.96, 1.06, 0.92, 1.00,
    1.07, 0.93, 1.01, 0.86, 1.09, 0.96, 1.04, 0.91, 1.12, 0.95, 1.00, 0.89, 1.06, 0.94, 1.10, 0.97, 0.84, 1.03, 1.08, 0.92,
    1.05, 0.95, 1.13, 0.90, 1.02, 0.97, 1.08, 0.93, 1.01, 0.88, 1.11, 0.96, 1.04, 0.91, 1.07, 0.99, 0.94, 1.15, 0.92, 1.03,
    0.97, 0.85, 1.06, 0.94, 1.02, 0.89, 1.10, 0.96, 1.03, 0.91, 1.08, 0.95, 1.00, 0.92, 1.06, 0.75, 1.17, 0.93, 1.04, 0.98,
    1.02, 0.94, 1.08, 0.90, 1.15, 0.96, 1.01, 0.87, 1.18, 0.93, 0.75, 0.98, 0.89, 1.04, 0.95, 1.09, 0.92, 1.00, 0.97, 1.06,
    0.91, 1.05, 0.96, 1.01, 0.88, 1.10, 0.94, 1.03, 0.90, 1.07, 0.97, 0.85, 1.04, 0.93, 1.09, 0.96, 1.00, 0.89, 1.06, 0.95,
    1.08, 0.92, 1.03, 0.96, 1.11, 0.80, 1.05, 0.94, 1.00, 1.18, 0.82, 1.07, 0.91, 1.04, 0.97, 1.09, 0.89, 1.02, 0.95, 1.06,
    0.93, 1.10, 0.97, 1.04, 0.89, 1.13, 0.95, 1.01, 0.84, 1.19, 0.92, 1.06, 0.98, 0.87, 1.08, 0.94, 1.03, 0.90, 1.00, 0.80,
    1.05, 0.96, 1.12, 0.91, 1.03, 0.97, 1.08, 0.88, 1.01, 0.94, 1.10, 0.92, 1.04, 0.86, 1.07, 0.99, 0.93, 1.06, 0.90, 1.02,
]
SIGMA_CHAIN1_B = [
    0.96, 1.03, 0.94, 1.01, 0.97, 1.05, 0.93, 1.02, 0.98, 1.00, 0.95, 1.04, 0.99, 0.96, 1.06, 0.92, 1.01, 0.97, 1.03, 0.94,
    1.01, 0.97, 1.04, 0.95, 1.00, 1.03, 0.94, 1.06, 0.96, 1.02, 0.98, 0.95, 1.05, 0.93, 1.00, 0.97, 1.04, 0.96, 1.02, 0.98,
    0.99, 1.02, 0.95, 1.04, 0.97, 1.01, 0.93, 1.05, 0.96, 1.00, 0.98, 1.03, 0.94, 1.02, 0.97, 1.06, 0.95, 0.99, 1.01, 0.96,
    0.97, 1.04, 0.99, 0.95, 1.03, 0.96, 1.01, 0.98, 1.05, 0.94, 1.00, 1.02, 0.96, 1.04, 0.97, 0.99, 1.06, 0.95, 1.01, 0.98,
    1.02, 0.96, 0.99, 1.04, 0.95, 1.01, 0.97, 1.05, 0.94, 1.00, 0.98, 1.03, 0.96, 1.02, 0.99, 0.93, 1.04, 0.97, 1.00, 0.96,
    0.97, 1.03, 0.95, 1.01, 0.98, 1.04, 0.94, 1.00, 0.96, 1.02, 0.99, 0.95, 1.05, 0.97, 1.01, 0.96, 1.03, 0.98, 1.00, 0.95,
    1.01, 0.97, 1.04, 0.95, 1.02, 0.98, 1.00, 0.94, 1.05, 0.97, 1.01, 0.96, 1.03, 0.99, 0.95, 1.04, 0.97, 1.02, 0.96, 1.00,
    0.98, 1.02, 0.96, 1.04, 0.97, 1.00, 0.99, 1.03, 0.94, 1.01, 0.97, 1.05, 0.96, 1.00, 0.98, 1.02, 0.95, 1.04, 0.99, 0.97,
    1.03, 0.96, 1.01, 0.98, 1.05, 0.95, 1.00, 0.97, 1.02, 0.94, 1.04, 0.99, 0.96, 1.03, 0.98, 1.01, 0.95, 1.05, 0.97, 1.00,
    0.98, 1.03, 0.95, 1.01, 0.99, 1.04, 0.96, 1.02, 0.97, 1.00, 0.94, 1.03, 0.98, 1.01, 0.96, 1.05, 0.99, 0.97, 1.02, 0.99,
]

TITLES = ["alpha", "beta", "sigma"]

# ---------------- style / geometry ----------------
BLUE = "#2a2eec"
ORANGE = "#fa7c17"
BLUE_T = "rgba(42,46,236,0.42)"
ORANGE_T = "rgba(250,124,23,0.42)"
TEXT = "#262626"
FONT = "DejaVu Sans"
W, H = 2423, 1223


def fx(px):
    return px / W


def fy(py):
    return 1 - py / H


COLS = [(fx(20), fx(1172)), (fx(1252), fx(2403))]
ROWS = [(fy(366), fy(60)), (fy(766), fy(460)), (fy(1165), fy(860))]
TITLE_Y = [fy(34), fy(434), fy(834)]


def merge(a, b):
    return [v for pair in zip(a, b) for v in pair]


DRAWS = merge(DRAW_A, DRAW_B)


def padded(values):
    lo, hi = min(values), max(values)
    p = 0.05 * (hi - lo)
    return [lo - p, hi + p]


fig = go.Figure()


def add_kde(xs, ys, color, n):
    fig.add_trace(go.Scatter(x=xs, y=ys, mode="lines",
                             line=dict(color=color, width=3, dash="11px,5px", shape="spline", smoothing=0.6),
                             xaxis="x" + str(n), yaxis="y" + str(n), showlegend=False, hoverinfo="skip"))


def add_chain(vals, color, dash, n):
    fig.add_trace(go.Scatter(x=DRAWS, y=vals, mode="lines",
                             line=dict(color=color, width=2.5, dash=dash),
                             xaxis="x" + str(n), yaxis="y" + str(n), showlegend=False, hoverinfo="skip"))


DOT = "2.5px,4px"
alpha0 = merge(ALPHA_CHAIN0_A, ALPHA_CHAIN0_B)
alpha1 = merge(ALPHA_CHAIN1_A, ALPHA_CHAIN1_B)
beta00 = merge(BETA0_CHAIN0_A, BETA0_CHAIN0_B)
beta01 = merge(BETA0_CHAIN1_A, BETA0_CHAIN1_B)
beta10 = merge(BETA1_CHAIN0_A, BETA1_CHAIN0_B)
beta11 = merge(BETA1_CHAIN1_A, BETA1_CHAIN1_B)
sigma0 = merge(SIGMA_CHAIN0_A, SIGMA_CHAIN0_B)
sigma1 = merge(SIGMA_CHAIN1_A, SIGMA_CHAIN1_B)

# row 1: alpha
add_kde(ALPHA_KDE_X, ALPHA_KDE_Y, BLUE, 1)
add_chain(alpha0, BLUE_T, "solid", 2)
add_chain(alpha1, BLUE_T, DOT, 2)
# row 2: beta
add_kde(BETA0_KDE_X, BETA0_KDE_Y, BLUE, 3)
add_kde(BETA1_KDE_X, BETA1_KDE_Y, ORANGE, 3)
add_chain(beta00, BLUE_T, "solid", 4)
add_chain(beta01, BLUE_T, DOT, 4)
add_chain(beta10, ORANGE_T, "solid", 4)
add_chain(beta11, ORANGE_T, DOT, 4)
# row 3: sigma
add_kde(SIGMA_KDE_X, SIGMA_KDE_Y, BLUE, 5)
add_chain(sigma0, BLUE_T, "solid", 6)
add_chain(sigma1, BLUE_T, DOT, 6)

tickfont = dict(family=FONT, size=26, color=TEXT)
common = dict(showgrid=True, gridcolor="white", gridwidth=2, zeroline=False, showline=False,
              automargin=False, tickfont=tickfont)
xticks = dict(ticks="outside", ticklen=4, tickcolor="rgba(0,0,0,0)")
yticks = dict(ticks="outside", ticklen=7, tickcolor="rgba(0,0,0,0)")

kde_x_ranges = [padded(ALPHA_KDE_X), padded(BETA0_KDE_X + BETA1_KDE_X), padded(SIGMA_KDE_X)]
kde_dticks = [0.1, 0.5, 0.1]
trace_y_ranges = [padded(alpha0 + alpha1), padded(beta00 + beta01 + beta10 + beta11), padded(sigma0 + sigma1)]
trace_dticks = [0.2, 1, 0.2]
trace_fmt = [".1f", "d", ".1f"]
kde_y_ranges = [padded(ALPHA_KDE_Y), padded(BETA0_KDE_Y + BETA1_KDE_Y), padded(SIGMA_KDE_Y)]

layout_axes = {}
annotations = []
for r in range(3):
    nl, nr = 2 * r + 1, 2 * r + 2
    layout_axes["xaxis" + str(nl)] = dict(common, **xticks, domain=COLS[0], anchor="y" + str(nl),
                                          range=kde_x_ranges[r], tick0=0, dtick=kde_dticks[r], tickformat=".1f")
    layout_axes["yaxis" + str(nl)] = dict(domain=ROWS[r], anchor="x" + str(nl), range=kde_y_ranges[r],
                                          showgrid=False, zeroline=False, showticklabels=False, ticks="",
                                          automargin=False)
    layout_axes["xaxis" + str(nr)] = dict(common, **xticks, domain=COLS[1], anchor="y" + str(nr),
                                          range=[0, 999], tick0=0, dtick=200)
    layout_axes["yaxis" + str(nr)] = dict(common, **yticks, domain=ROWS[r], anchor="x" + str(nr),
                                          range=trace_y_ranges[r], tick0=0, dtick=trace_dticks[r],
                                          tickformat=trace_fmt[r])
    for c in range(2):
        annotations.append(dict(text=TITLES[r], xref="paper", yref="paper",
                                x=(COLS[c][0] + COLS[c][1]) / 2, y=TITLE_Y[r],
                                xanchor="center", yanchor="middle", showarrow=False,
                                font=dict(family=FONT, size=30, color=TEXT)))

fig.update_layout(width=W, height=H, autosize=False, margin=dict(l=0, r=0, t=0, b=0, pad=0),
                  paper_bgcolor="white", plot_bgcolor="#eeeeee",
                  annotations=annotations, **layout_axes)

fig.write_html("out.html")
